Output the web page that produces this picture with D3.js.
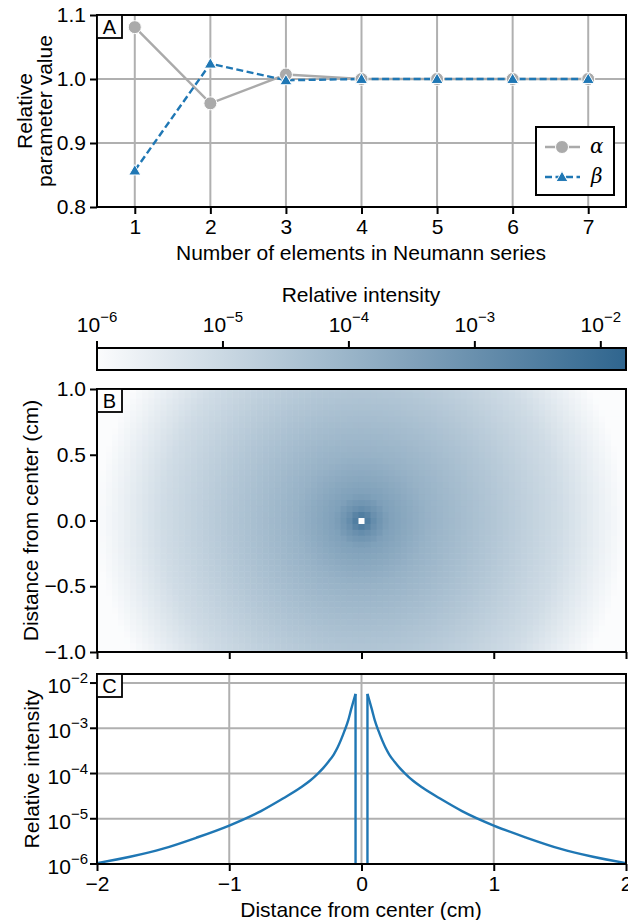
<!DOCTYPE html>
<html>
<head>
<meta charset="utf-8">
<script src="https://cdn.jsdelivr.net/npm/d3@7"></script>
<style>
body { margin: 0; background: #fff; }
text { font-family: "Liberation Sans", Arial, sans-serif; fill: #000; }
</style>
</head>
<body>
<div id="chart"></div>
<script>
// panel A data
const nElements = [1, 2, 3, 4, 5, 6, 7];
const alphaValues = [1.081, 0.962, 1.007, 1.0, 1.0, 1.0, 1.0];
const betaValues = [0.857, 1.024, 0.998, 1.0, 1.0, 1.0, 1.0];
const aYTicks = [0.8, 0.9, 1.0, 1.1];

// intensity profile (distance in cm, log10 intensity)
const profileDist = [0.045, 0.08, 0.1, 0.13, 0.18, 0.21, 0.25, 0.29, 0.33, 0.39, 0.46, 0.61, 0.76, 1.0, 1.25, 1.5, 1.75, 2.0];
const profileLog = [-2.24, -2.6, -2.82, -3.07, -3.42, -3.58, -3.74, -3.88, -4.0, -4.16, -4.31, -4.58, -4.83, -5.15, -5.42, -5.66, -5.84, -5.98];

// radial intensity (distance in cm, log10 intensity)
const mapDist = [0.045, 0.1, 0.2, 0.5, 1.0, 1.5, 1.8, 2.0];
const mapLog = [-2.5, -3.0, -3.45, -3.95, -4.5, -5.1, -5.65, -6.0];

const logTicks = [-6, -5, -4, -3, -2];
const cmTicks = [-2, -1, 0, 1, 2];
const bYTicks = [-1.0, -0.5, 0.0, 0.5, 1.0];

const W = 628, H = 920;
const left = 97, right = 626;
const gridColor = '#b0b0b0';
const fs = '21px';

const svg = d3.select('#chart').append('svg')
    .attr('width', W)
    .attr('height', H);

function styleAxis(g) {
    g.select('.domain').remove();
    g.selectAll('.tick line').attr('stroke', '#000').attr('stroke-width', 2);
    g.selectAll('.tick text').style('font-size', fs).attr('fill', '#000');
}

function panelLabel(x, y, t) {
    let g = svg.append('g');
    g.append('rect').attr('x', x).attr('y', y).attr('width', 25).attr('height', 23)
        .attr('fill', '#fff').attr('stroke', '#000').attr('stroke-width', 1.8);
    g.append('text').attr('x', x + 12.5).attr('y', y + 19).attr('text-anchor', 'middle')
        .style('font-size', '20px').text(t);
}

function superLabel(sel, x, y, anchor, exp) {
    let t = sel.append('text').attr('x', x).attr('y', y).attr('text-anchor', anchor)
        .style('font-size', fs);
    t.append('tspan').text('10');
    t.append('tspan').attr('dy', -10).style('font-size', '15px').text('\u2212' + Math.abs(exp));
    return t;
}

// ---------- panel A ----------
const aTop = 15, aBottom = 207;
let xA = d3.scaleLinear().domain([0.5, 7.5]).range([left, right]);
let yA = d3.scaleLinear().domain([0.8, 1.1]).range([aBottom, aTop]);

let gA = svg.append('g');

// grid
gA.selectAll('.vg').data(nElements).enter().append('line')
    .attr('x1', d => xA(d)).attr('x2', d => xA(d))
    .attr('y1', aTop).attr('y2', aBottom)
    .attr('stroke', gridColor).attr('stroke-width', 2);
gA.selectAll('.hg').data(aYTicks).enter().append('line')
    .attr('x1', left).attr('x2', right)
    .attr('y1', d => yA(d)).attr('y2', d => yA(d))
    .attr('stroke', gridColor).attr('stroke-width', 2);

let lineA = d3.line().x((d, i) => xA(nElements[i])).y(d => yA(d));

gA.append('path').datum(alphaValues).attr('d', lineA)
    .attr('fill', 'none').attr('stroke', '#aaaaaa').attr('stroke-width', 2.4);
gA.append('path').datum(betaValues).attr('d', lineA)
    .attr('fill', 'none').attr('stroke', '#1f77b4').attr('stroke-width', 2.4)
    .attr('stroke-dasharray', '7,3.5');

gA.selectAll('.ca').data(alphaValues).enter().append('circle')
    .attr('cx', (d, i) => xA(nElements[i])).attr('cy', d => yA(d)).attr('r', 6.5)
    .attr('fill', '#aaaaaa').attr('stroke', '#fff').attr('stroke-width', 1);

let tri = d3.symbol().type(d3.symbolTriangle).size(62);
gA.selectAll('.tb').data(betaValues).enter().append('path')
    .attr('d', tri)
    .attr('transform', (d, i) => 'translate(' + xA(nElements[i]) + ',' + (yA(d) + 1) + ')')
    .attr('fill', '#1f77b4').attr('stroke', '#fff').attr('stroke-width', 1);

gA.append('rect').attr('x', left).attr('y', aTop).attr('width', right - left).attr('height', aBottom - aTop)
    .attr('fill', 'none').attr('stroke', '#000').attr('stroke-width', 2);

gA.append('g').attr('transform', 'translate(0,' + aBottom + ')')
    .call(d3.axisBottom(xA).tickValues(nElements).tickSize(7).tickPadding(5).tickFormat(d3.format('d')))
    .call(styleAxis);
gA.append('g').attr('transform', 'translate(' + left + ',0)')
    .call(d3.axisLeft(yA).tickValues(aYTicks).tickSize(7).tickPadding(4).tickFormat(d3.format('.1f')))
    .call(styleAxis);

gA.append('text').attr('x', 361).attr('y', 260).attr('text-anchor', 'middle')
    .style('font-size', fs).text('Number of elements in Neumann series');
let yl = gA.append('text').attr('transform', 'translate(32,' + ((aTop + aBottom) / 2) + ') rotate(-90)')
    .attr('text-anchor', 'middle').style('font-size', fs);
yl.append('tspan').attr('x', 0).attr('dy', 0).text('Relative');
yl.append('tspan').attr('x', 0).attr('dy', 20).text('parameter value');

// legend
let lg = gA.append('g');
lg.append('rect').attr('x', 536).attr('y', 127).attr('width', 78).attr('height', 68)
    .attr('fill', '#fff').attr('stroke', '#000').attr('stroke-width', 2);
lg.append('line').attr('x1', 545).attr('x2', 580).attr('y1', 147).attr('y2', 147)
    .attr('stroke', '#aaaaaa').attr('stroke-width', 2.4);
lg.append('circle').attr('cx', 562).attr('cy', 147).attr('r', 6.5)
    .attr('fill', '#aaaaaa').attr('stroke', '#fff').attr('stroke-width', 1);
lg.append('line').attr('x1', 545).attr('x2', 580).attr('y1', 177).attr('y2', 177)
    .attr('stroke', '#1f77b4').attr('stroke-width', 2.4).attr('stroke-dasharray', '7,3.5');
lg.append('path').attr('d', tri).attr('transform', 'translate(562,178)')
    .attr('fill', '#1f77b4').attr('stroke', '#fff').attr('stroke-width', 1);
lg.append('text').attr('x', 590).attr('y', 153).style('font-family', '"DejaVu Serif", serif')
    .style('font-style', 'italic').style('font-size', '20px').text('\u03b1');
lg.append('text').attr('x', 591).attr('y', 183).style('font-family', '"DejaVu Serif", serif')
    .style('font-style', 'italic').style('font-size', '20px').text('\u03b2');

panelLabel(left, aTop, 'A');

// ---------- colour map + colour bar ----------
const logMin = -6, logMax = -1.8;
let cInterp = d3.interpolateRgb('#fbfcfd', '#2f658e');
let colorOfLog = lv => cInterp(Math.max(0, Math.min(1, (lv - logMin) / (logMax - logMin))));

const cbTop = 348, cbBottom = 370;
let xCb = d3.scaleLinear().domain([logMin, logMax]).range([left, right]);
let defs = svg.append('defs');
let grad = defs.append('linearGradient').attr('id', 'cbgrad');
d3.range(0, 1.0001, 0.1).forEach(t => {
    grad.append('stop').attr('offset', t).attr('stop-color', cInterp(t));
});
svg.append('rect').attr('x', left).attr('y', cbTop).attr('width', right - left).attr('height', cbBottom - cbTop)
    .attr('fill', 'url(#cbgrad)').attr('stroke', '#000').attr('stroke-width', 2);
let gCb = svg.append('g');
gCb.selectAll('line').data(logTicks).enter().append('line')
    .attr('x1', d => xCb(d)).attr('x2', d => xCb(d))
    .attr('y1', cbTop - 7).attr('y2', cbTop)
    .attr('stroke', '#000').attr('stroke-width', 2);
logTicks.forEach(e => superLabel(gCb, xCb(e), 332, 'middle', e));
svg.append('text').attr('x', 361).attr('y', 302).attr('text-anchor', 'middle')
    .style('font-size', fs).text('Relative intensity');

// ---------- panel B heatmap ----------
const bTop = 389, bBottom = 652;
let xB = d3.scaleLinear().domain([-2, 2]).range([left, right]);
let yB = d3.scaleLinear().domain([-1, 1]).range([bBottom, bTop]);

const step = 4 / 88;
const gridX = d3.range(-44, 45).map(i => i * step);
const gridY = d3.range(-22, 23).map(i => i * step);
let mapProfile = d3.scaleLinear().domain(mapDist).range(mapLog).clamp(true);
let cells = [];
gridY.forEach(yv => gridX.forEach(xv => {
    let r = Math.hypot(xv, yv);
    cells.push({ x: xv, y: yv, lv: r < step / 2 ? null : mapProfile(r) });
}));

defs.append('clipPath').attr('id', 'clipB').append('rect')
    .attr('x', left).attr('y', bTop).attr('width', right - left).attr('height', bBottom - bTop);

let gB = svg.append('g');
let cw = xB(step) - xB(0), ch = yB(0) - yB(step);
gB.append('g').attr('clip-path', 'url(#clipB)')
    .selectAll('rect').data(cells).enter().append('rect')
    .attr('x', d => xB(d.x) - cw / 2).attr('y', d => yB(d.y) - ch / 2)
    .attr('width', cw + 0.5).attr('height', ch + 0.5)
    .attr('fill', d => d.lv === null ? '#ffffff' : colorOfLog(d.lv));

gB.append('rect').attr('x', left).attr('y', bTop).attr('width', right - left).attr('height', bBottom - bTop)
    .attr('fill', 'none').attr('stroke', '#000').attr('stroke-width', 2);
gB.append('g').attr('transform', 'translate(0,' + bBottom + ')')
    .call(d3.axisBottom(xB).tickValues(cmTicks).tickSize(7).tickFormat(''))
    .call(styleAxis);
gB.append('g').attr('transform', 'translate(' + left + ',0)')
    .call(d3.axisLeft(yB).tickValues(bYTicks).tickSize(7).tickPadding(4)
        .tickFormat(d => d3.format('.1f')(d).replace('-', '\u2212')))
    .call(styleAxis);
gB.append('text').attr('transform', 'translate(38,' + ((bTop + bBottom) / 2) + ') rotate(-90)')
    .attr('text-anchor', 'middle').style('font-size', fs).text('Distance from center (cm)');
panelLabel(left, bTop, 'B');

// ---------- panel C profile ----------
const cTop = 674, cBottom = 864;
let xC = d3.scaleLinear().domain([-2, 2]).range([left, right]);
let yC = d3.scaleLog().domain([1e-6, Math.pow(10, logMax)]).range([cBottom, cTop]);

let gC = svg.append('g');
gC.selectAll('.vg').data(cmTicks).enter().append('line')
    .attr('x1', d => xC(d)).attr('x2', d => xC(d)).attr('y1', cTop).attr('y2', cBottom)
    .attr('stroke', gridColor).attr('stroke-width', 2);
gC.selectAll('.hg').data(logTicks).enter().append('line')
    .attr('x1', left).attr('x2', right)
    .attr('y1', d => yC(Math.pow(10, d))).attr('y2', d => yC(Math.pow(10, d)))
    .attr('stroke', gridColor).attr('stroke-width', 2);

let rightBranch = profileDist.map((d, i) => [d, Math.pow(10, profileLog[i])]);
let leftBranch = rightBranch.map(p => [-p[0], p[1]]).reverse();
let lineC = d3.line().x(d => xC(d[0])).y(d => yC(d[1])).curve(d3.curveMonotoneX);

defs.append('clipPath').attr('id', 'clipC').append('rect')
    .attr('x', left - 2).attr('y', cTop).attr('width', right - left + 4).attr('height', cBottom - cTop);
let gCurve = gC.append('g').attr('clip-path', 'url(#clipC)');
[leftBranch, rightBranch].forEach(br => {
    gCurve.append('path').datum(br).attr('d', lineC)
        .attr('fill', 'none').attr('stroke', '#1f77b4').attr('stroke-width', 2.4);
});
// the centre sample is zero: on a log axis the line drops straight down
[leftBranch[leftBranch.length - 1], rightBranch[0]].forEach(p => {
    gCurve.append('line').attr('x1', xC(p[0])).attr('x2', xC(p[0]))
        .attr('y1', yC(p[1])).attr('y2', cBottom + 5)
        .attr('stroke', '#1f77b4').attr('stroke-width', 2.4);
});

gC.append('rect').attr('x', left).attr('y', cTop).attr('width', right - left).attr('height', cBottom - cTop)
    .attr('fill', 'none').attr('stroke', '#000').attr('stroke-width', 2);
gC.append('g').attr('transform', 'translate(0,' + cBottom + ')')
    .call(d3.axisBottom(xC).tickValues(cmTicks).tickSize(7).tickPadding(5)
        .tickFormat(d => String(d).replace('-', '\u2212')))
    .call(styleAxis);
let yAxC = gC.append('g');
logTicks.forEach(e => {
    let y = yC(Math.pow(10, e));
    yAxC.append('line').attr('x1', left - 7).attr('x2', left).attr('y1', y).attr('y2', y)
        .attr('stroke', '#000').attr('stroke-width', 2);
    superLabel(yAxC, 88, y + 10, 'end', e);
});
gC.append('text').attr('x', 361).attr('y', 917).attr('text-anchor', 'middle')
    .style('font-size', fs).text('Distance from center (cm)');
gC.append('text').attr('transform', 'translate(39,' + ((cTop + cBottom) / 2) + ') rotate(-90)')
    .attr('text-anchor', 'middle').style('font-size', fs).text('Relative intensity');
panelLabel(left, cTop, 'C');
</script>
</body>
</html>
